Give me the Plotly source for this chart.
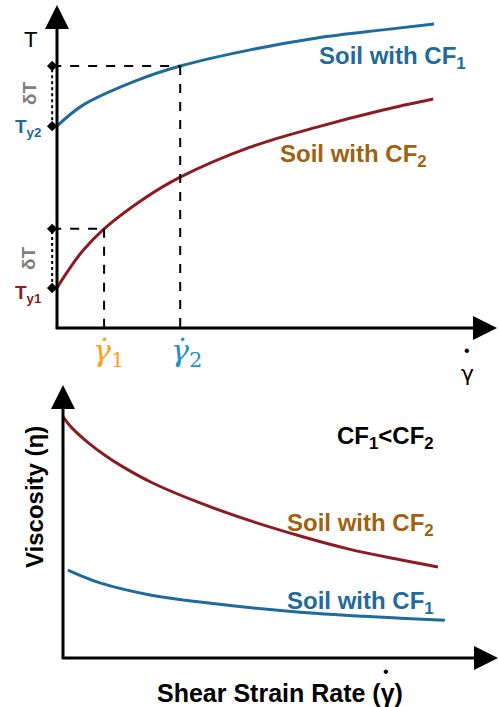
import plotly.graph_objects as go

# ---------------- data (schematic values) ----------------
# Top panel: shear stress vs shear strain rate
cf1_rate = [0, 0.59, 1.73, 2.80, 4.39, 5.91, 7.41, 8.57]
cf1_stress = [6.25, 6.90, 7.62, 8.11, 8.61, 8.98, 9.23, 9.41]
cf2_rate = [0, 0.23, 0.59, 1.07, 1.95, 2.80, 4.39, 5.91, 7.41, 8.55]
cf2_stress = [1.24, 1.73, 2.40, 3.07, 3.98, 4.67, 5.60, 6.22, 6.75, 7.09]
gamma_marks = [1.07, 2.80]          # gamma_dot_1, gamma_dot_2
tau_y = [1.24, 6.25]                # yield stresses Ty1, Ty2
tau_at_gamma = [3.07, 8.11]         # stress of CF2 at gamma1, CF1 at gamma2
delta_x = -0.11                     # where the delta-T brackets sit

# Bottom panel: viscosity vs shear strain rate
visc_rate_cf2 = [0, 0.21, 0.57, 0.97, 1.36, 2.05, 3.15, 4.30, 5.45, 6.60, 7.75, 8.62]
visc_cf2 = [8.83, 8.42, 7.90, 7.42, 7.02, 6.42, 5.68, 5.03, 4.47, 3.98, 3.60, 3.33]
visc_rate_cf1 = [0.11, 0.85, 2.0, 3.15, 5.45, 7.75, 8.78]
visc_cf1 = [3.22, 2.75, 2.31, 2.05, 1.68, 1.46, 1.38]

W, H = 498, 707
BLUE = "#1f6b9a"
RED = "#8b1c24"
BROWN = "#a0620f"
GRAY = "#7f7f7f"
ORANGE = "#f7a21b"
LBLUE = "#1f8fd2"
FONT = "Liberation Sans"


def px(x):
    return x / W


def py(y):
    return 1 - y / H


fig = go.Figure()

# curves
fig.add_trace(go.Scatter(x=cf1_rate, y=cf1_stress, mode="lines", line=dict(color=BLUE, width=3, shape="spline"),
                         xaxis="x", yaxis="y", hoverinfo="skip"))
fig.add_trace(go.Scatter(x=cf2_rate, y=cf2_stress, mode="lines", line=dict(color=RED, width=3, shape="spline"),
                         xaxis="x", yaxis="y", hoverinfo="skip"))
fig.add_trace(go.Scatter(x=visc_rate_cf2, y=visc_cf2, mode="lines", line=dict(color=RED, width=3, shape="spline"),
                         xaxis="x2", yaxis="y2", hoverinfo="skip"))
fig.add_trace(go.Scatter(x=visc_rate_cf1, y=visc_cf1, mode="lines", line=dict(color=BLUE, width=3, shape="spline"),
                         xaxis="x2", yaxis="y2", hoverinfo="skip"))

shapes = []
# dashed guide lines
for g, t in zip(gamma_marks, tau_at_gamma):
    shapes.append(dict(type="line", xref="x", yref="y", x0=delta_x, x1=g, y0=t, y1=t,
                       line=dict(color="black", width=2, dash="dash")))
    shapes.append(dict(type="line", xref="x", yref="y", x0=g, x1=g, y0=t, y1=0,
                       line=dict(color="black", width=2, dash="dash")))
# dotted delta-T brackets
for a, b in zip(tau_y, tau_at_gamma):
    shapes.append(dict(type="line", xref="x", yref="y", x0=delta_x, x1=delta_x, y0=a, y1=b,
                       line=dict(color="black", width=2, dash="dot")))

# diamonds on the delta-T brackets
fig.add_trace(go.Scatter(x=[delta_x] * 4, y=tau_y + tau_at_gamma, mode="markers",
                         marker=dict(symbol="diamond", size=8, color="black"), cliponaxis=False,
                         xaxis="x", yaxis="y", hoverinfo="skip"))

ann = []
# axis arrows
for xr, yr in (("x", "y"), ("x2", "y2")):
    ann.append(dict(xref=xr, yref=yr, axref=xr, ayref=yr, x=10, y=0, ax=-0.06, ay=0, text="",
                    showarrow=True, arrowhead=2, arrowwidth=3, arrowsize=1.6, arrowcolor="black", standoff=0))
    ann.append(dict(xref=xr, yref=yr, axref=xr, ayref=yr, x=0, y=10, ax=0, ay=-0.08, text="",
                    showarrow=True, arrowhead=2, arrowwidth=3, arrowsize=1.6, arrowcolor="black", standoff=0))


def label(text, x, y, size, color="black", bold=False, angle=0, family=FONT):
    t = f"<b>{text}</b>" if bold else text
    ann.append(dict(xref="paper", yref="paper", x=px(x), y=py(y), text=t, showarrow=False,
                    xanchor="center", yanchor="middle", textangle=angle,
                    font=dict(size=size, color=color, family=family)))


# top panel texts
label("T", 30, 40, 22)
label("δT", 29, 93, 19, GRAY, bold=True, angle=-90)
label("δT", 29, 258, 19, GRAY, bold=True, angle=-90)
label("T<sub>y2</sub>", 28, 128, 19, BLUE, bold=True)
label("T<sub>y1</sub>", 28, 294, 19, RED, bold=True)
label("Soil with CF<sub>1</sub>", 392, 57, 24, BLUE, bold=True)
label("Soil with CF<sub>2</sub>", 353, 155, 24, BROWN, bold=True)
label("<i>γ̇</i><sub>1</sub>", 108, 352, 30, ORANGE, family="DejaVu Serif")
label("<i>γ̇</i><sub>2</sub>", 186, 352, 30, LBLUE, family="DejaVu Serif")
label("•", 467, 351, 16)
label("γ", 467, 373, 22, family="DejaVu Sans")

# bottom panel texts
label("CF<sub>1</sub>&lt;CF<sub>2</sub>", 385, 437, 24, bold=True)
label("Soil with CF<sub>2</sub>", 360, 524, 24, BROWN, bold=True)
label("Soil with CF<sub>1</sub>", 360, 602, 24, BLUE, bold=True)
label("Viscosity (η)", 35, 497, 24, bold=True, angle=-90)
label("Shear Strain Rate (γ)", 280, 693, 25, bold=True)
label("•", 386, 671, 16)

hidden = dict(visible=False, fixedrange=True)
x_left = -9 / 44.0  # extend the top x range a little left of the y axis (brackets sit there)
fig.update_layout(
    width=W, height=H, margin=dict(l=0, r=0, t=0, b=0),
    paper_bgcolor="white", plot_bgcolor="white", showlegend=False,
    xaxis=dict(domain=[px(48), px(497)], range=[x_left, 10], anchor="y", **hidden),
    yaxis=dict(domain=[py(328), py(5)], range=[0, 10], anchor="x", **hidden),
    xaxis2=dict(domain=[px(63), 1.0], range=[0, 10], anchor="y2", **hidden),
    yaxis2=dict(domain=[py(658), py(385)], range=[0, 10], anchor="x2", **hidden),
    shapes=shapes, annotations=ann,
)

fig.write_html("out.html")
